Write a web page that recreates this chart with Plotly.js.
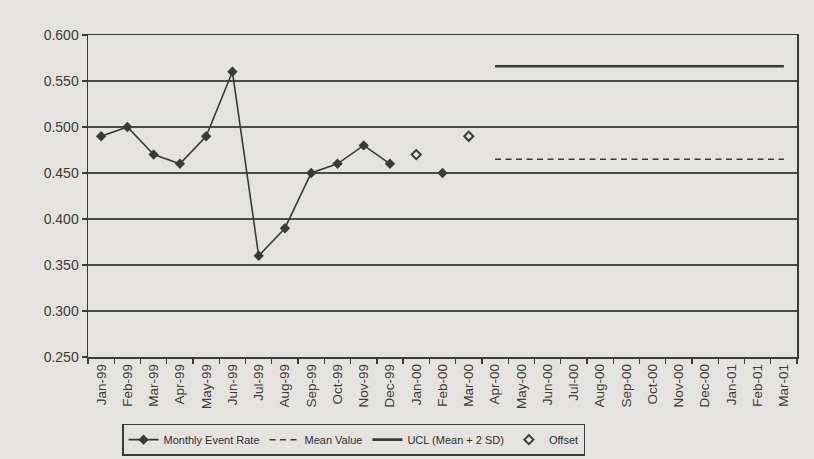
<!DOCTYPE html>
<html>
<head>
<meta charset="utf-8">
<script src="https://cdn.plot.ly/plotly-3.0.1.min.js"></script>
<style>
html,body{margin:0;padding:0;background:#e5e3e0;}
#chart{width:814px;height:459px;}
</style>
</head>
<body>
<div id="chart"></div>
<script>
var months = ["Jan-99","Feb-99","Mar-99","Apr-99","May-99","Jun-99","Jul-99","Aug-99","Sep-99","Oct-99","Nov-99","Dec-99",
  "Jan-00","Feb-00","Mar-00","Apr-00","May-00","Jun-00","Jul-00","Aug-00","Sep-00","Oct-00","Nov-00","Dec-00",
  "Jan-01","Feb-01","Mar-01"];
var monthlyRate = [0.49,0.50,0.47,0.46,0.49,0.56,0.36,0.39,0.45,0.46,0.48,0.46,
  null,0.45,null,null,null,null,null,null,null,null,null,null,null,null,null];
var offsetVals = [null,null,null,null,null,null,null,null,null,null,null,null,
  0.47,null,0.49,null,null,null,null,null,null,null,null,null,null,null,null];
var meanVals = [null,null,null,null,null,null,null,null,null,null,null,null,
  null,null,null,0.465,0.465,0.465,0.465,0.465,0.465,0.465,0.465,0.465,0.465,0.465,0.465];
var uclVals = [null,null,null,null,null,null,null,null,null,null,null,null,
  null,null,null,0.566,0.566,0.566,0.566,0.566,0.566,0.566,0.566,0.566,0.566,0.566,0.566];

var ink = "#3a3a3a";
var traces = [
  {x: months, y: monthlyRate, name: "Monthly Event Rate", type: "scatter", mode: "lines+markers",
   line: {color: ink, width: 1.6}, marker: {symbol: "diamond", size: 8, color: ink}, connectgaps: false},
  {x: months, y: meanVals, name: "Mean Value", type: "scatter", mode: "lines",
   line: {color: ink, width: 1.5, dash: "6px,4.5px"}},
  {x: months, y: uclVals, name: "UCL (Mean + 2 SD)", type: "scatter", mode: "lines",
   line: {color: ink, width: 2.6}},
  {x: months, y: offsetVals, name: "Offset", type: "scatter", mode: "markers",
   marker: {symbol: "diamond-open", size: 7, color: ink, line: {width: 2, color: ink}}}
];

var layout = {
  width: 814, height: 459,
  paper_bgcolor: "#e5e3e0", plot_bgcolor: "#e5e3e0",
  margin: {l: 88, r: 17, t: 35, b: 102, autoexpand: false},
  font: {family: "Liberation Sans, Arial, sans-serif", color: "#3c3c3c", size: 12},
  showlegend: true,
  legend: {orientation: "h", x: 0.048, xanchor: "left", y: -0.207, yanchor: "top",
    bordercolor: "#3a3a3a", borderwidth: 1.5, bgcolor: "rgba(0,0,0,0)",
    font: {size: 11, color: "#2e2e2e"}, tracegroupgap: 0},
  xaxis: {type: "category", categoryorder: "array", categoryarray: months, automargin: false,
    range: [-0.5, 26.5], showgrid: false, showline: true, linecolor: "#3a3a3a", linewidth: 1.5,
    mirror: true, ticks: "outside", tickson: "boundaries", ticklen: 5, tickcolor: "#3a3a3a", tickwidth: 1.3,
    tickangle: -90, tickfont: {size: 13.5, color: "#3c3c3c"}, zeroline: false, fixedrange: true},
  yaxis: {range: [0.25, 0.6], dtick: 0.05, tick0: 0.25, tickformat: ".3f", automargin: false,
    showgrid: true, gridcolor: "#4a4a4a", gridwidth: 1.2,
    showline: true, linecolor: "#3a3a3a", linewidth: 1.5, mirror: true,
    ticks: "outside", ticklen: 5, tickcolor: "#3a3a3a", tickwidth: 1.3,
    tickfont: {size: 14, color: "#3c3c3c"}, zeroline: false, fixedrange: true}
};

Plotly.newPlot("chart", traces, layout, {displayModeBar: false, staticPlot: true});
</script>
</body>
</html>
